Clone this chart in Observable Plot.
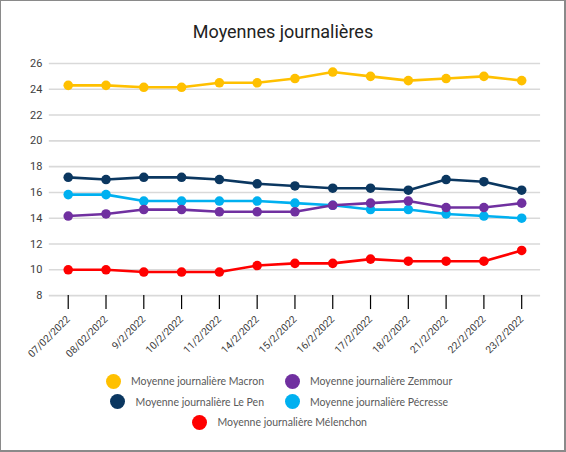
<!DOCTYPE html>
<html>
<head>
<meta charset="utf-8">
<script src="https://cdn.jsdelivr.net/npm/d3@7"></script>
<script src="https://cdn.jsdelivr.net/npm/@observablehq/plot@0.6"></script>
<style>
  html, body { margin: 0; padding: 0; background: #fff; }
  #frame { position: relative; width: 566px; height: 452px; box-sizing: border-box;
           border: 1px solid #8a8a8a; border-right-width: 2px; border-bottom-width: 2px; background: #fff; overflow: hidden; }
  #title { position: absolute; top: 22px; left: 0; width: 564px; text-align: center;
           font: 18px/18px Roboto, "Liberation Sans", sans-serif; color: #222; }
  #chart { position: absolute; top: 47px; left: -1px; }
  #legend { position: absolute; top: 370px; left: -1px; width: 566px; display: grid;
            grid-template-columns: 264px 1fr; column-gap: 20.5px; grid-auto-rows: 20.5px;
            font: 10.5px Lato, "Open Sans", sans-serif; color: #595959; }
  .item { display: flex; align-items: center; white-space: nowrap; }
  .item.left { justify-self: end; }
  .item.full { grid-column: 1 / span 2; justify-self: center; margin-right: 7px; }
  .sw { width: 15px; height: 15px; border-radius: 50%; margin-right: 10.5px; flex: none; }
</style>
</head>
<body>
<div id="frame">
  <div id="title">Moyennes journalières</div>
  <div id="chart"></div>
  <div id="legend"></div>
</div>
<script>
const dates = ["07/02/2022","08/02/2022","9/2/2022","10/2/2022","11/2/2022","14/2/2022","15/2/2022","16/2/2022","17/2/2022","18/2/2022","21/2/2022","22/2/2022","23/2/2022"];
const macron    = [24.3, 24.3, 24.15, 24.15, 24.5, 24.5, 24.83, 25.33, 25.0, 24.67, 24.83, 25.0, 24.67];
const lePen     = [17.17, 17.0, 17.17, 17.17, 17.0, 16.67, 16.5, 16.33, 16.33, 16.17, 17.0, 16.83, 16.17];
const pecresse  = [15.83, 15.83, 15.33, 15.33, 15.33, 15.33, 15.17, 15.0, 14.67, 14.67, 14.33, 14.17, 14.0];
const zemmour   = [14.17, 14.33, 14.67, 14.67, 14.5, 14.5, 14.5, 15.0, 15.17, 15.33, 14.83, 14.83, 15.17];
const melenchon = [10.0, 10.0, 9.83, 9.83, 9.83, 10.33, 10.5, 10.5, 10.83, 10.67, 10.67, 10.67, 11.5];
const yTicks = [8, 10, 12, 14, 16, 18, 20, 22, 24, 26];

const seriesNames  = ["Moyenne journalière Macron", "Moyenne journalière Zemmour", "Moyenne journalière Le Pen", "Moyenne journalière Pécresse", "Moyenne journalière Mélenchon"];
const seriesValues = [macron, zemmour, lePen, pecresse, melenchon];
const seriesColors = ["#FFC000", "#7030A0", "#0B3760", "#00B0F0", "#FF0000"];

const rows = [];
seriesNames.forEach((name, i) => {
  seriesValues[i].forEach((v, j) => rows.push({series: name, date: dates[j], value: v}));
});
// draw order: Macron, Le Pen, Pécresse, Zemmour, Mélenchon
const drawOrder = [0, 2, 3, 1, 4];

const marks = [
  Plot.ruleY(yTicks, {stroke: "#d9d9d9", strokeWidth: 1.6}),
  Plot.axisY({ticks: yTicks, tickSize: 0, tickPadding: 7, fontSize: 11, fill: "#404040", label: null}),
  Plot.axisX({tickSize: 14, stroke: "#000", strokeWidth: 1.2, tickRotate: -45, tickPadding: 8, fontSize: 10.2, fill: "#404040", label: null})
];
drawOrder.forEach(i => {
  const data = rows.filter(d => d.series === seriesNames[i]);
  marks.push(Plot.line(data, {x: "date", y: "value", stroke: "series", strokeWidth: 2.6}));
  marks.push(Plot.dot(data, {x: "date", y: "value", fill: "series", r: 4.8}));
});

const chart = Plot.plot({
  width: 566,
  height: 318,
  marginTop: 15,
  marginBottom: 70,
  marginLeft: 49,
  marginRight: 24,
  style: {background: "transparent", fontFamily: "Roboto, 'Liberation Sans', sans-serif"},
  x: {type: "point", domain: dates, padding: 0.5, round: false, label: null},
  y: {domain: [8, 26], label: null},
  color: {domain: seriesNames, range: seriesColors},
  marks
});
document.getElementById("chart").appendChild(chart);

const legend = document.getElementById("legend");
seriesNames.forEach((name, i) => {
  const item = document.createElement("div");
  item.className = "item " + (i === 4 ? "full" : (i % 2 === 0 ? "left" : "right"));
  const sw = document.createElement("span");
  sw.className = "sw";
  sw.style.background = seriesColors[i];
  const label = document.createElement("span");
  label.textContent = name;
  item.appendChild(sw);
  item.appendChild(label);
  legend.appendChild(item);
});
</script>
</body>
</html>
